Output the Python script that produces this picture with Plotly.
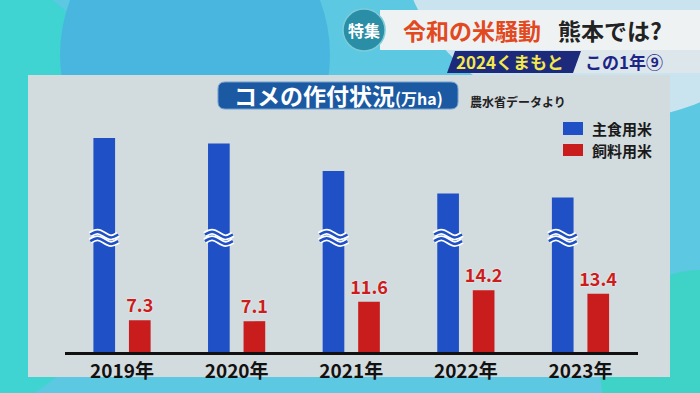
import plotly.graph_objects as go

# ---- data ----
years = ["2019年", "2020年", "2021年", "2022年", "2023年"]
main_rice = [137.9, 136.6, 130.3, 125.1, 124.2]   # 主食用米 (万ha), drawn with an axis break
feed_rice = [7.3, 7.1, 11.6, 14.2, 13.4]          # 飼料用米 (万ha)
break_cut = 88.6                                   # amount removed by the ≈ break
main_shown = [v - break_cut for v in main_rice]

W, H = 700, 393
def PX(x): return x / W
def PY(y): return 1 - y / H

BLUE = "#1f50c6"
RED = "#c91d1d"
FONT = "Noto Sans CJK JP"

fig = go.Figure()
fig.add_trace(go.Bar(x=years, y=main_shown, marker_color=BLUE, marker_line_width=0,
                     name="主食用米", showlegend=False, hoverinfo="skip"))
fig.add_trace(go.Bar(x=years, y=feed_rice, marker_color=RED, marker_line_width=0,
                     name="飼料用米", showlegend=False,
                     text=[f"<b>{v}</b>" for v in feed_rice], textposition="outside",
                     constraintext="none",
                     textfont=dict(color="#cc1c1c", size=18, family=FONT, shadow="0px 0px 2px white"),
                     cliponaxis=False, hoverinfo="skip"))

shapes = []
# background blobs
shapes.append(dict(type="circle", xref="paper", yref="paper", layer="below",
                   x0=PX(-260), x1=PX(140), y0=PY(420), y1=PY(-40), fillcolor="#3fd4d2", line_width=0))
shapes.append(dict(type="circle", xref="paper", yref="paper", layer="below",
                   x0=PX(60), x1=PX(330), y0=PY(200), y1=PY(-90), fillcolor="#49b6e0", line_width=0))
shapes.append(dict(type="circle", xref="paper", yref="paper", layer="below",
                   x0=PX(400), x1=PX(820), y0=PY(120), y1=PY(-250), fillcolor="#c9e4ee", line_width=0))
shapes.append(dict(type="circle", xref="paper", yref="paper", layer="below",
                   x0=PX(600), x1=PX(800), y0=PY(470), y1=PY(270), fillcolor="#3fd2c6", line_width=0))
# panel
shapes.append(dict(type="rect", xref="paper", yref="paper", layer="below",
                   x0=PX(28), x1=PX(670), y0=PY(377), y1=PY(75), fillcolor="#d2dbde", line_width=0))
# header banner
shapes.append(dict(type="rect", xref="paper", yref="paper", layer="below",
                   x0=PX(380), x1=PX(700), y0=PY(50), y1=PY(10), fillcolor="#eef2f3", line_width=0))
shapes.append(dict(type="rect", xref="paper", yref="paper", layer="below",
                   x0=PX(560), x1=PX(700), y0=PY(73), y1=PY(50), fillcolor="#dde6ea", line_width=0))
# navy parallelogram
shapes.append(dict(type="path", xref="paper", yref="paper", layer="below",
                   path=f"M {PX(455)},{PY(51)} L {PX(581)},{PY(51)} L {PX(573)},{PY(73)} L {PX(447)},{PY(73)} Z",
                   fillcolor="#1d2a7c", line_width=0))
# 特集 circle
shapes.append(dict(type="circle", xref="paper", yref="paper",
                   x0=PX(343), x1=PX(385), y0=PY(51), y1=PY(9), fillcolor="#2a8ea6",
                   line=dict(color="#7ccbd8", width=1.5)))
# title pill (rounded)
x0, x1, y0, y1, r = 218, 458, 82, 109, 7
pill = (f"M {PX(x0+r)},{PY(y0)} L {PX(x1-r)},{PY(y0)} Q {PX(x1)},{PY(y0)} {PX(x1)},{PY(y0+r)} "
        f"L {PX(x1)},{PY(y1-r)} Q {PX(x1)},{PY(y1)} {PX(x1-r)},{PY(y1)} "
        f"L {PX(x0+r)},{PY(y1)} Q {PX(x0)},{PY(y1)} {PX(x0)},{PY(y1-r)} "
        f"L {PX(x0)},{PY(y0+r)} Q {PX(x0)},{PY(y0)} {PX(x0+r)},{PY(y0)} Z")
shapes.append(dict(type="path", xref="paper", yref="paper", path=pill,
                   fillcolor="#1b5aa2", line=dict(color="#6f9fd0", width=1)))
# legend squares
shapes.append(dict(type="rect", xref="paper", yref="paper",
                   x0=PX(563), x1=PX(583), y0=PY(135), y1=PY(122), fillcolor=BLUE, line_width=0))
shapes.append(dict(type="rect", xref="paper", yref="paper",
                   x0=PX(563), x1=PX(583), y0=PY(156), y1=PY(144), fillcolor=RED, line_width=0))

# break marks (≈) on the blue bars
blue_off = -0.155
hw = 0.122
amp = 0.55
break_y = 26.3
for i in range(len(years)):
    xc = i + blue_off
    a = xc - hw
    w = 2 * hw
    for dy in (0.75, -0.75):
        y = break_y + dy
        p = (f"M {a},{y} C {a+w*0.22},{y+1.6*amp} {a+w*0.3},{y+1.6*amp} {a+w*0.5},{y} "
             f"C {a+w*0.7},{y-1.6*amp} {a+w*0.78},{y-1.6*amp} {a+w},{y}")
        shapes.append(dict(type="path", xref="x", yref="y", path=p, layer="above",
                           line=dict(color="white", width=6)))
        shapes.append(dict(type="path", xref="x", yref="y", path=p, layer="above",
                           line=dict(color=BLUE, width=2.5)))

ann = []
def A(text, x, y, size, color, xanchor="center"):
    ann.append(dict(text=text, x=PX(x), y=PY(y), xref="paper", yref="paper", showarrow=False,
                    xanchor=xanchor, yanchor="middle", align="left",
                    font=dict(family=FONT, size=size, color=color)))

A("<b>特集</b>", 364, 30, 16, "white")
A("<b>令和の米騒動</b>", 401, 30, 23, "#e2491f", "left")
A("<b>熊本では?</b>", 556, 30, 23, "#222222", "left")
A("<b>2024くまもと</b>", 510, 62, 17, "#f3e84c")
A("<b>この1年⑨</b>", 624, 62, 17, "#1c2486")
A("<b>コメの作付状況<span style='font-size:16px'>(万ha)</span></b>", 338, 95, 23, "white")
A("<b>農水省データより</b>", 468, 101, 12, "#222222", "left")
A("<b>主食用米</b>", 590, 128.5, 15, "#1a1a1a", "left")
A("<b>飼料用米</b>", 590, 150.5, 15, "#1a1a1a", "left")

fig.update_layout(
    width=W, height=H, margin=dict(l=0, r=0, t=0, b=0),
    paper_bgcolor="#5cc8e2", plot_bgcolor="rgba(0,0,0,0)",
    barmode="group", bargap=0.38, bargroupgap=0.39,
    shapes=shapes, annotations=ann, showlegend=False,
    xaxis=dict(domain=[PX(64.7), PX(637.8)], range=[-0.5, 4.5], showline=True, linecolor="#111111",
               linewidth=3, ticks="", showgrid=False, zeroline=False,
               tickfont=dict(family=FONT, size=19, color="#111111"),
               tickvals=years, ticktext=[f"<b>{y}</b>" for y in years]),
    yaxis=dict(domain=[PY(352), PY(75)], range=[0, 63.8], visible=False, showgrid=False, zeroline=False),
)
fig.write_html("out.html", config={"displayModeBar": False},
               post_script="document.body.style.margin='0';document.body.style.overflow='hidden';")
